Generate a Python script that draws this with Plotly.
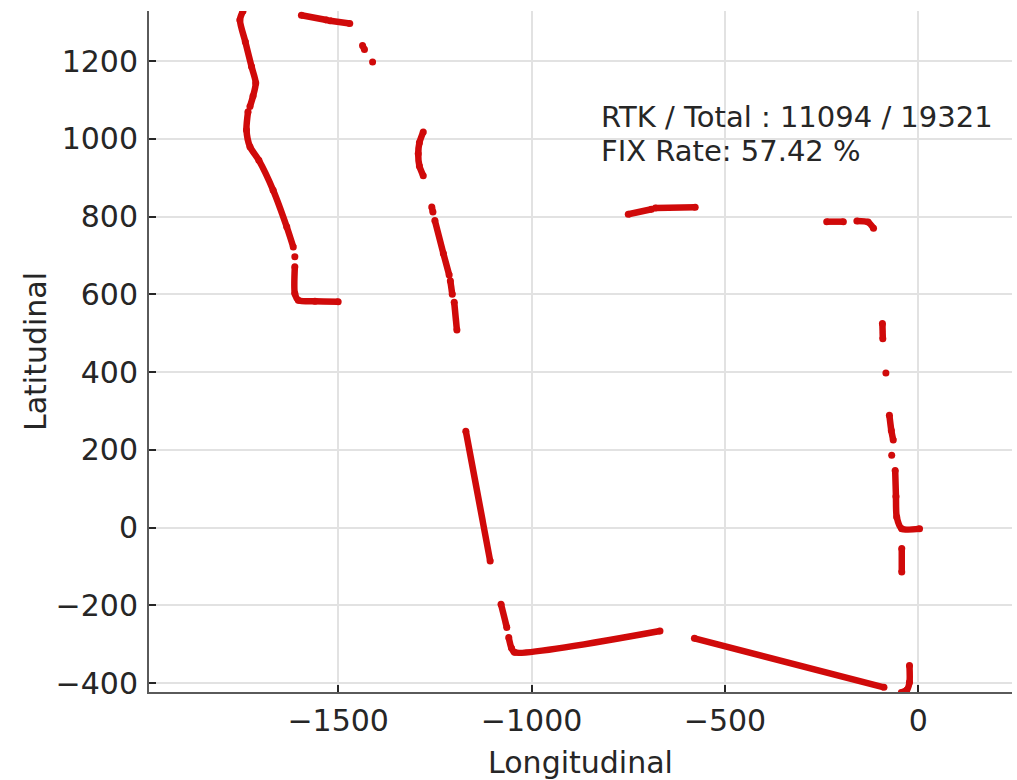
import plotly.graph_objects as go

# ---- data (longitudinal / latitudinal, metres) ----
# None separates the gaps between RTK-fix stretches
west_lon = [-1746, -1754, -1740, -1724, -1713, -1720, -1728, None,
            -1733, -1737, -1728, -1705, -1668, -1633, -1616, None,
            -1612, None,
            -1612, -1612, -1603, -1560, -1500]
west_lat = [1329, 1306, 1250, 1186, 1144, 1110, 1083, None,
            1070, 1023, 980, 945, 868, 774, 722, None,
            697, None,
            671, 602, 585, 582, 581]

north_lon = [-1595, -1530, None, -1521, -1470, None,
             -1437, -1432, None, -1411]
north_lat = [1318, 1306, None, 1304, 1297, None,
             1240, 1230, None, 1198]

mid_lon = [-1280, -1290, -1293, -1290, -1280, None,
           -1258, -1255, None,
           -1250, -1228, -1213, None,
           -1210, -1205, None,
           -1200, -1193]
mid_lat = [1018, 990, 962, 930, 905, None,
           825, 812, None,
           790, 705, 650, None,
           635, 600, None,
           580, 508]

south_lon = [-1170, -1107, None,
             -1079, -1064, None,
             -1059, -1052, -1044, -668, None,
             -579, -89, None,
             -23, -23, -30, -44]
south_lat = [248, -86, None,
             -197, -257, None,
             -283, -310, -321, -266, None,
             -285, -411, None,
             -355, -398, -418, -424]

upper_lon = [-750, -690, None, -680, -577, None,
             -237, -194, None, -159, -130, -116]
upper_lat = [806, 819, None, 822, 824, None,
             787, 787, None, 789, 786, 770]

east_lon = [-93, -92, None,
            -84, None,
            -75, -70, -65, None,
            -69, None,
            -60, -58, -56, -43, 3, None,
            -43, -43]
east_lat = [525, 486, None,
            398, None,
            289, 250, 225, None,
            186, None,
            147, 80, 27, -3, -3, None,
            -54, -114]

x_ticks = [-1500, -1000, -500, 0]
y_ticks = [-400, -200, 0, 200, 400, 600, 800, 1000, 1200]
x_range = [-1989, 242]
y_range = [-423, 1329]

rtk_count = 11094
total_count = 19321
fix_rate = 57.42

# ---- figure ----
RED = "#d00a0a"
TXT = "#262626"
FONT = "DejaVu Sans, Verdana, sans-serif"

fig = go.Figure()
for lon, lat in [(west_lon, west_lat), (north_lon, north_lat), (mid_lon, mid_lat),
                 (south_lon, south_lat), (upper_lon, upper_lat), (east_lon, east_lat)]:
    fig.add_trace(go.Scatter(
        x=lon, y=lat, mode="lines+markers",
        line=dict(color=RED, width=6.5, shape="spline", smoothing=0.7),
        marker=dict(color=RED, size=7),
        connectgaps=False, showlegend=False, hoverinfo="skip"))

axis_common = dict(
    showline=True, linecolor="#5a5a5a", linewidth=2, mirror=False,
    ticks="inside", ticklen=7, tickwidth=1.5, tickcolor=TXT,
    showgrid=True, gridcolor="#e2e2e2", gridwidth=1.5,
    zeroline=False, tickfont=dict(family=FONT, size=30, color=TXT),
)

fig.update_layout(
    width=1017, height=780,
    margin=dict(l=149, r=5, t=11, b=88),
    paper_bgcolor="white", plot_bgcolor="white",
    xaxis=dict(range=x_range, tickvals=x_ticks, autorange=False,
               title=dict(text="Longitudinal", standoff=15,
                          font=dict(family=FONT, size=30, color=TXT)),
               ticklabelstandoff=1, **axis_common),
    yaxis=dict(range=y_range, tickvals=y_ticks, autorange=False,
               title=dict(text="Latitudinal", standoff=0,
                          font=dict(family=FONT, size=30, color=TXT)),
               ticklabelstandoff=3, **axis_common),
    annotations=[
        dict(xref="paper", yref="paper", x=0.521, y=0.844, xanchor="left", yanchor="middle",
             text=f"RTK / Total : {rtk_count} / {total_count}", showarrow=False,
             font=dict(family=FONT, size=29, color=TXT)),
        dict(xref="paper", yref="paper", x=0.521, y=0.794, xanchor="left", yanchor="middle",
             text=f"FIX Rate: {fix_rate:.2f} %", showarrow=False,
             font=dict(family=FONT, size=29, color=TXT)),
    ],
)

fig.write_html("out.html")
